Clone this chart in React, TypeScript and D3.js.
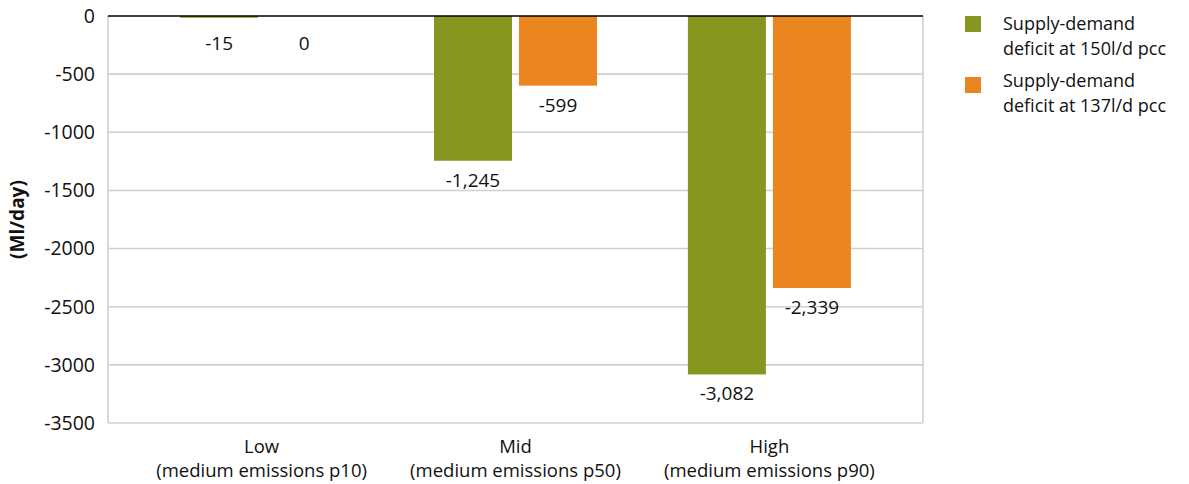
import React from "react";
import * as d3 from "d3";

const categories = ["Low", "Mid", "High"];
const categorySub = ["(medium emissions p10)", "(medium emissions p50)", "(medium emissions p90)"];
const seriesNames = ["Supply-demand deficit at 150l/d pcc", "Supply-demand deficit at 137l/d pcc"];
const legendLines = [["Supply-demand", "deficit at 150l/d pcc"], ["Supply-demand", "deficit at 137l/d pcc"]];
const deficit150 = [-15, -1245, -3082];
const deficit137 = [0, -599, -2339];
const yTicks = [0, -500, -1000, -1500, -2000, -2500, -3000, -3500];
const colors = ["#87961F", "#EA851F"];

const W = 1189, H = 484;
const left = 108, right = 923, top = 16, bottom = 423;
const FONT = "'Open Sans', sans-serif";

export default function App() {
  const x = d3.scaleBand<string>().domain(categories).range([left, right]).paddingInner(0).paddingOuter(0.105);
  const y = d3.scaleLinear().domain([0, -3500]).range([top, bottom]);
  const barW = 78, gap = 7;
  const series = [deficit150, deficit137];
  const fmt = (v: number) => d3.format(",")(v).replace("\u2212", "-");

  return (
    <svg width={W} height={H} style={{ position: "absolute", left: 0, top: 0, background: "#fff" }} fontFamily={FONT}>
      {yTicks.map((t) => (
        <g key={t}>
          {t !== 0 && <line x1={left} x2={right} y1={y(t)} y2={y(t)} stroke="#d0d0d0" strokeWidth={1.6} />}
          <text x={95} y={y(t)} dy="0.35em" textAnchor="end" fontSize={19.5} fill="#111">{t}</text>
        </g>
      ))}
      <line x1={left} x2={left} y1={top} y2={bottom} stroke="#d0d0d0" strokeWidth={1.6} />
      <line x1={right} x2={right} y1={top} y2={bottom} stroke="#d0d0d0" strokeWidth={1.6} />
      {categories.map((c, i) => {
        const cx = (x(c) as number) + x.bandwidth() / 2;
        return (
          <g key={c}>
            {series.map((s, k) => {
              const bx = k === 0 ? cx - gap / 2 - barW : cx + gap / 2;
              const yEnd = y(s[i]);
              const labelY = Math.max(yEnd + 26, y(0) + 34);
              return (
                <g key={k}>
                  <rect x={bx} y={y(0)} width={barW} height={yEnd - y(0)} fill={colors[k]} />
                  <text x={bx + barW / 2} y={labelY} textAnchor="middle" fontSize={19} fill="#111">{fmt(s[i])}</text>
                </g>
              );
            })}
            <text x={cx} y={453} textAnchor="middle" fontSize={18.5} fill="#111">{c}</text>
            <text x={cx} y={477} textAnchor="middle" fontSize={18.5} fill="#111">{categorySub[i]}</text>
          </g>
        );
      })}
      <line x1={left} x2={right} y1={y(0)} y2={y(0)} stroke="#000" strokeWidth={1.3} />
      <text transform={`translate(24,${(top + bottom) / 2}) rotate(-90)`} textAnchor="middle" fontSize={19} fontWeight="bold" fill="#111">(Ml/day)</text>
      {seriesNames.map((n, k) => (
        <g key={n}>
          <rect x={965} y={16 + k * 61} width={16} height={16} fill={colors[k]} />
          {legendLines[k].map((ln, j) => (
            <text key={j} x={1003} y={30 + k * 57 + j * 24.5} fontSize={18} fill="#111">{ln}</text>
          ))}
        </g>
      ))}
    </svg>
  );
}
